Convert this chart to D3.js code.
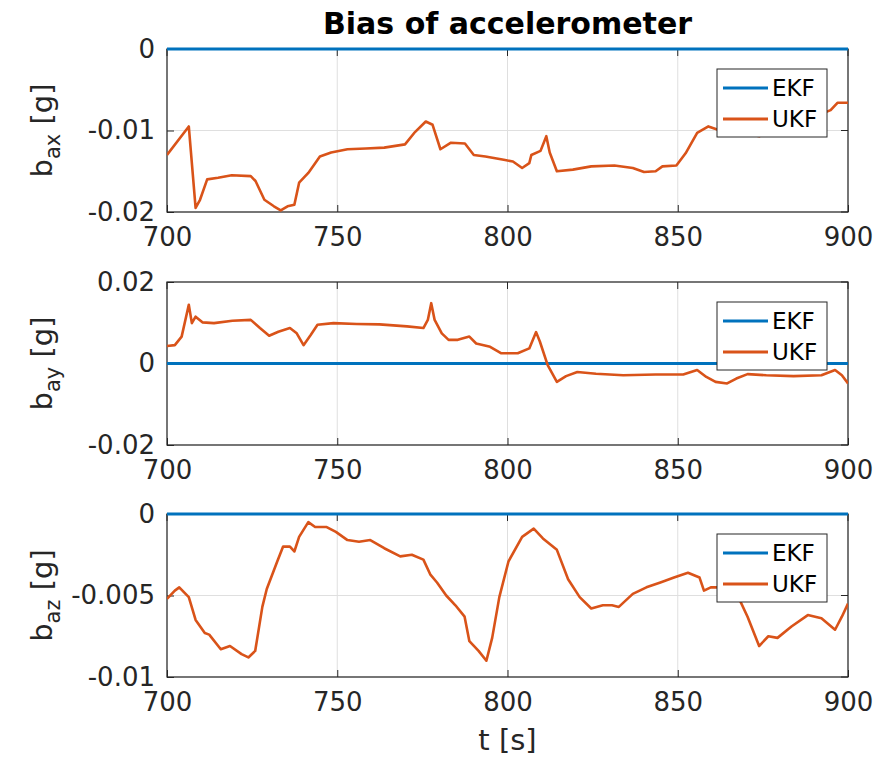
<!DOCTYPE html>
<html>
<head>
<meta charset="utf-8">
<script src="https://cdn.jsdelivr.net/npm/d3@7"></script>
<style>
  body { margin: 0; background: #fff; }
  svg { font-family: "DejaVu Sans", sans-serif; }
</style>
</head>
<body>
<div id="chart"></div>
<script>
// Time ticks shared by all three panels
const timeTicks = [700, 750, 800, 850, 900];

// EKF bias estimate stays at zero in every axis
const ekfTime = [700, 900];
const ekfBias = [0, 0];

// UKF bias, x axis [g]
const ukfTimeX = [700, 706.4, 708.4, 709.7, 711.8, 715, 719, 724.6, 726, 728.6, 731.4, 733.4, 735.4, 737.4, 738.8,
  741.5, 744.9, 748.2, 753, 758.4, 763.8, 769.9, 772.6, 776, 778, 780.3, 783.4, 787.5, 790.1, 793.5, 798.9, 801.6,
  804.3, 806.4, 807, 809.7, 811.4, 812.4, 814.5, 819.2, 824.6, 831.4, 836.8, 840.1, 843.5, 845.5, 849.6, 852.3,
  855.7, 859, 861.8, 868, 874, 876, 882, 889, 894.9, 896.9, 900];
const ukfBiasX = [-0.0130, -0.0095, -0.0195, -0.0185, -0.0160, -0.0158, -0.0155, -0.0156, -0.0162, -0.0185, -0.0193,
  -0.0198, -0.0193, -0.0191, -0.0164, -0.0152, -0.0132, -0.0127, -0.0123, -0.0122, -0.0121, -0.0117, -0.0103,
  -0.0089, -0.0093, -0.0123, -0.0115, -0.0116, -0.0130, -0.0132, -0.0136, -0.0138, -0.0146, -0.0140, -0.0130,
  -0.0125, -0.0107, -0.0127, -0.0150, -0.0148, -0.0144, -0.0143, -0.0146, -0.0151, -0.0150, -0.0144, -0.0143,
  -0.0128, -0.0103, -0.0095, -0.0099, -0.0102, -0.0107, -0.0101, -0.0095, -0.0085, -0.0075, -0.0066, -0.0066];

// UKF bias, y axis [g]
const ukfTimeY = [700, 702.3, 704.3, 706.4, 707.3, 708.4, 710.4, 713.8, 719.2, 724.6, 727.3, 730, 732.7, 736.1, 738.1,
  740.1, 742.2, 744.2, 748.9, 755.7, 762.4, 770.5, 775.3, 776.6, 777.6, 778.6, 780.7, 782.7, 785.4, 788.8, 790.8,
  794.9, 798.2, 803, 806.4, 808.4, 809.5, 811.8, 814.5, 817.2, 820.5, 826, 834, 843.5, 851.6, 855.7, 858.4, 861.1,
  864.5, 867.2, 870.5, 876, 884, 892.2, 896.2, 898.2, 900];
const ukfBiasY = [0.0043, 0.0045, 0.0066, 0.0144, 0.0099, 0.0115, 0.0101, 0.0099, 0.0105, 0.0107, 0.0087, 0.0068,
  0.0078, 0.0087, 0.0074, 0.0045, 0.0070, 0.0095, 0.0099, 0.0097, 0.0096, 0.0091, 0.0087, 0.0107, 0.0148, 0.0107,
  0.0074, 0.0058, 0.0058, 0.0066, 0.0049, 0.0041, 0.0025, 0.0025, 0.0037, 0.0077, 0.0054, -0.0004, -0.0045,
  -0.0031, -0.0021, -0.0025, -0.0029, -0.0027, -0.0027, -0.0016, -0.0033, -0.0045, -0.0049, -0.0037, -0.0026,
  -0.0029, -0.0031, -0.0029, -0.0016, -0.0029, -0.0049];

// UKF bias, z axis [g]
const ukfTimeZ = [700, 702.3, 703.6, 706.4, 708.4, 711.1, 712.4, 715.8, 718.5, 721.9, 723.9, 725.9, 728, 729.3, 732.4,
  734.1, 736.1, 737.4, 738.8, 741.5, 743.5, 746.9, 749.6, 753, 756.4, 759.7, 763.8, 768.5, 771.9, 775.3, 777.3,
  779.3, 782, 784.7, 787.4, 788.8, 791.5, 793.8, 795.5, 797.6, 800.3, 804.3, 807.7, 810.4, 814.5, 817.8, 821.2,
  824.6, 828, 830.7, 832.7, 836.8, 840.8, 844.9, 848.9, 853, 856.4, 857.7, 859.7, 861.8, 867.8, 870.5, 873.9,
  876.6, 879.3, 883.4, 888.2, 892.2, 896.2, 898.2, 900];
const ukfBiasZ = [-0.0052, -0.0047, -0.0045, -0.0051, -0.0065, -0.0073, -0.0074, -0.0083, -0.0081, -0.0086, -0.0088,
  -0.0084, -0.0057, -0.0046, -0.0029, -0.0020, -0.0020, -0.0023, -0.0014, -0.0005, -0.0008, -0.0008, -0.0011,
  -0.0016, -0.0017, -0.0016, -0.0021, -0.0026, -0.0025, -0.0028, -0.0037, -0.0042, -0.0050, -0.0056, -0.0063,
  -0.0078, -0.0084, -0.0090, -0.0076, -0.0051, -0.0029, -0.0014, -0.0009, -0.0015, -0.0022, -0.0040, -0.0051,
  -0.0058, -0.0056, -0.0056, -0.0057, -0.0049, -0.0045, -0.0042, -0.0039, -0.0036, -0.0039, -0.0047, -0.0045,
  -0.0045, -0.0051, -0.0063, -0.0081, -0.0075, -0.0076, -0.0069, -0.0062, -0.0064, -0.0071, -0.0063, -0.0055];

// Y tick values and their labels per panel
const yTicksX = [0, -0.01, -0.02];
const yTickLabelsX = ["0", "-0.01", "-0.02"];
const yTicksY = [0.02, 0, -0.02];
const yTickLabelsY = ["0.02", "0", "-0.02"];
const yTicksZ = [0, -0.005, -0.01];
const yTickLabelsZ = ["0", "-0.005", "-0.01"];

const seriesNames = ["EKF", "UKF"];
const colors = ["#0072BD", "#D95319"];

const width = 879, height = 762;
const left = 167, right = 848, panelH = 163;
const panelTops = [49, 282, 514];

const svg = d3.select("#chart").append("svg")
  .attr("width", width)
  .attr("height", height);

const x = d3.scaleLinear().domain([700, 900]).range([left, right]);

const panels = [
  { t: ukfTimeX, v: ukfBiasX, domain: [-0.02, 0], ticks: yTicksX, labels: yTickLabelsX, sub: "ax" },
  { t: ukfTimeY, v: ukfBiasY, domain: [-0.02, 0.02], ticks: yTicksY, labels: yTickLabelsY, sub: "ay" },
  { t: ukfTimeZ, v: ukfBiasZ, domain: [-0.01, 0], ticks: yTicksZ, labels: yTickLabelsZ, sub: "az" }
];

panels.forEach((p, i) => {
  const top = panelTops[i];
  const bottom = top + panelH;
  const y = d3.scaleLinear().domain(p.domain).range([bottom, top]);
  const g = svg.append("g");

  const clipId = "clip" + i;
  svg.append("clipPath").attr("id", clipId)
    .append("rect").attr("x", left).attr("y", top - 2).attr("width", right - left).attr("height", panelH + 4);

  // grid
  g.selectAll(".gx").data(timeTicks).enter().append("line")
    .attr("x1", d => x(d)).attr("x2", d => x(d))
    .attr("y1", top).attr("y2", bottom)
    .attr("stroke", "#dfdfdf").attr("stroke-width", 1);
  g.selectAll(".gy").data(p.ticks).enter().append("line")
    .attr("x1", left).attr("x2", right)
    .attr("y1", d => y(d)).attr("y2", d => y(d))
    .attr("stroke", "#dfdfdf").attr("stroke-width", 1);

  // axes (ticks inside, MATLAB style)
  const xAxis = d3.axisBottom(x).tickValues(timeTicks).tickSizeInner(-7).tickSizeOuter(0).tickPadding(16);
  const yAxis = d3.axisLeft(y).tickValues(p.ticks).tickSizeInner(-7).tickSizeOuter(0).tickPadding(12)
    .tickFormat((d, k) => p.labels[k]);
  const ax = g.append("g").attr("transform", `translate(0,${bottom})`).call(xAxis);
  const ay = g.append("g").attr("transform", `translate(${left},0)`).call(yAxis);
  [ax, ay].forEach(a => {
    a.selectAll("text").attr("font-size", 26).attr("fill", "#262626").attr("font-family", "DejaVu Sans");
    a.selectAll("line").attr("stroke", "#262626");
    a.select(".domain").remove();
  });
  // right ticks
  g.selectAll(".ry").data(p.ticks).enter().append("line")
    .attr("x1", right).attr("x2", right - 7)
    .attr("y1", d => y(d)).attr("y2", d => y(d))
    .attr("stroke", "#262626");
  g.selectAll(".tx").data(timeTicks).enter().append("line")
    .attr("x1", d => x(d)).attr("x2", d => x(d))
    .attr("y1", top).attr("y2", top + 7)
    .attr("stroke", "#262626");

  // box
  g.append("rect")
    .attr("x", left).attr("y", top).attr("width", right - left).attr("height", panelH)
    .attr("fill", "none").attr("stroke", "#262626").attr("stroke-width", 1.2);

  // lines
  const line = d3.line().x(d => x(d[0])).y(d => y(d[1]));
  g.append("path")
    .datum(ekfTime.map((t, k) => [t, ekfBias[k]]))
    .attr("d", line).attr("fill", "none")
    .attr("stroke", colors[0]).attr("stroke-width", 3);
  g.append("path")
    .datum(p.t.map((t, k) => [t, p.v[k]]))
    .attr("clip-path", `url(#${clipId})`)
    .attr("d", line).attr("fill", "none")
    .attr("stroke", colors[1]).attr("stroke-width", 2.6)
    .attr("stroke-linejoin", "round");

  // y label with subscript
  const lab = g.append("text")
    .attr("transform", `translate(52,${(top + bottom) / 2}) rotate(-90)`)
    .attr("text-anchor", "middle")
    .attr("font-size", 29).attr("fill", "#262626");
  lab.append("tspan").text("b");
  lab.append("tspan").attr("font-size", 21).attr("dy", 8).text(p.sub);
  lab.append("tspan").attr("dy", -8).text(" [g]");

  // legend
  const lx = 717, ly = top + 20;
  const leg = g.append("g");
  leg.append("rect")
    .attr("x", lx).attr("y", ly).attr("width", 110).attr("height", 68)
    .attr("fill", "#fff").attr("stroke", "#262626").attr("stroke-width", 1);
  seriesNames.forEach((name, k) => {
    const cy = ly + 19 + k * 31;
    leg.append("line")
      .attr("x1", lx + 6).attr("x2", lx + 51).attr("y1", cy).attr("y2", cy)
      .attr("stroke", colors[k]).attr("stroke-width", 3);
    leg.append("text")
      .attr("x", lx + 55).attr("y", cy).attr("dy", "0.36em")
      .attr("font-size", 23).attr("fill", "#000").text(name);
  });
});

// title
svg.append("text")
  .attr("x", (left + right) / 2).attr("y", 34)
  .attr("text-anchor", "middle")
  .attr("font-size", 30).attr("font-weight", "bold").attr("fill", "#000")
  .text("Bias of accelerometer");

// x label
svg.append("text")
  .attr("x", (left + right) / 2).attr("y", 750)
  .attr("text-anchor", "middle")
  .attr("font-size", 29).attr("fill", "#262626")
  .text("t [s]");
</script>
</body>
</html>
